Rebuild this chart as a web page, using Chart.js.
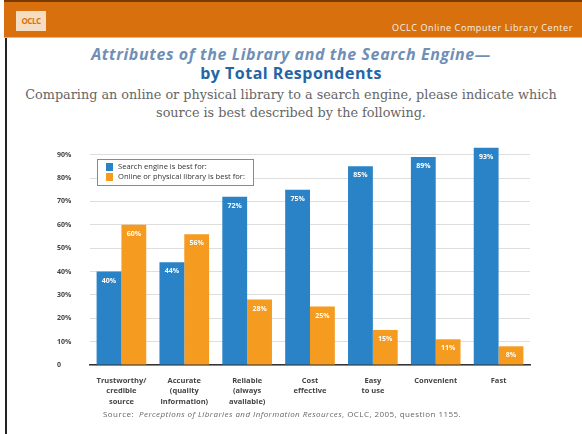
<!DOCTYPE html>
<html>
<head>
<meta charset="utf-8">
<script src="https://cdn.jsdelivr.net/npm/chart.js@4.4.1/dist/chart.umd.min.js"></script>
<style>
  html, body { margin: 0; padding: 0; background: #fff; }
  body { width: 582px; height: 434px; position: relative; overflow: hidden; font-family: "Open Sans", sans-serif; }
  .kopf { position: absolute; left: 4px; top: 0; width: 578px; height: 35px; background: #d8710d; border-top: 2px solid #7a3a06; border-bottom: 1px solid #f0b27a; }
  .logo { position: absolute; left: 12px; top: 9px; width: 30px; height: 20px; background: #f6dcc0; color: #d8710d; font: bold 8px "Open Sans"; line-height: 20px; text-align: center; letter-spacing: -0.5px; }
  .firma { position: absolute; right: 9px; top: 19px; color: #fff; font: 9px "Open Sans"; letter-spacing: 0.6px; opacity: 0.9; }
  .rand { position: absolute; left: 5px; top: 38px; width: 1.5px; height: 396px; background: #222; }
  .titel1 { position: absolute; left: 0; width: 582px; top: 43px; text-align: center; color: #6f8fb6; font: italic bold 16px "Open Sans"; letter-spacing: 0.6px; line-height: 22px; }
  .titel2 { position: absolute; left: 0; width: 582px; top: 62px; text-align: center; color: #2465a5; font: bold 16px "Open Sans"; letter-spacing: 0.5px; line-height: 22px; }
  .frage { position: absolute; left: 0; width: 582px; top: 86px; text-align: center; color: #666; font: 12.8px "DejaVu Serif"; line-height: 18px; }
  .quelle { position: absolute; left: 103px; top: 408px; color: #666; font: 8px "Open Sans"; letter-spacing: 0.45px; }
  .quelle i { font-style: italic; }
  #grafik { position: absolute; left: 0; top: 130px; }
</style>
</head>
<body>
<div class="kopf"><div class="logo">OCLC</div><div class="firma">OCLC Online Computer Library Center</div></div>
<div class="rand"></div>
<div class="titel1">Attributes of the Library and the Search Engine—</div>
<div class="titel2">by Total Respondents</div>
<div class="frage">Comparing an online or physical library to a search engine, please indicate which<br>source is best described by the following.</div>
<canvas id="grafik" width="582" height="280"></canvas>
<div class="quelle">Source: &nbsp;<i>Perceptions of Libraries and Information Resources</i>, OCLC, 2005, question 1155.</div>

<script>
// Kategorien (mehrzeilige Beschriftungen der x-Achse)
const kategorien = [
    ["Trustworthy/", "credible", "source"],
    ["Accurate", "(quality", "information)"],
    ["Reliable", "(always", "available)"],
    ["Cost", "effective"],
    ["Easy", "to use"],
    ["Convenient"],
    ["Fast"]
];

// Prozentwerte je Antwort
const suchmaschine = [40, 44, 72, 75, 85, 89, 93];
const bibliothek = [60, 56, 28, 25, 15, 11, 8];

const serienNamen = ["Search engine is best for:", "Online or physical library is best for:"];
const yTicks = [0, 10, 20, 30, 40, 50, 60, 70, 80, 90];

const BLAU = "#2a83c6";
const ORANGE = "#f59b1f";

// Prozentwerte weiß oben in die Balken schreiben
const balkenWerte = {
    id: "balkenWerte",
    afterDatasetsDraw(chart) {
        const ctx = chart.ctx;
        ctx.save();
        ctx.font = "bold 7px 'Open Sans'";
        ctx.fillStyle = "#fff";
        ctx.textAlign = "center";
        ctx.textBaseline = "middle";
        chart.data.datasets.forEach((ds, i) => {
            chart.getDatasetMeta(i).data.forEach((bar, j) => {
                ctx.fillText(ds.data[j] + "%", bar.x, bar.y + 9);
            });
        });
        ctx.restore();
    }
};

// Legende als Kasten innerhalb der Zeichenfläche
const legendeKasten = {
    id: "legendeKasten",
    afterDraw(chart) {
        const ctx = chart.ctx;
        const a = chart.chartArea;
        const x = a.left + 7, y = a.top + 16, w = 156, h = 26;
        ctx.save();
        ctx.fillStyle = "#fff";
        ctx.fillRect(x, y, w, h);
        ctx.strokeStyle = "#8a8a8a";
        ctx.lineWidth = 1;
        ctx.strokeRect(x + 0.5, y + 0.5, w, h);
        ctx.font = "7.6px 'Open Sans'";
        ctx.textBaseline = "middle";
        chart.data.datasets.forEach((ds, i) => {
            const zy = y + 8 + i * 10;
            ctx.fillStyle = ds.backgroundColor;
            ctx.fillRect(x + 9, zy - 4, 7, 8);
            ctx.fillStyle = "#333";
            ctx.fillText(ds.label, x + 21, zy);
        });
        ctx.restore();
    }
};

new Chart(document.getElementById("grafik").getContext("2d"), {
    type: "bar",
    data: {
        labels: kategorien,
        datasets: [
            { label: serienNamen[0], data: suchmaschine, backgroundColor: BLAU },
            { label: serienNamen[1], data: bibliothek, backgroundColor: ORANGE }
        ]
    },
    options: {
        responsive: false,
        animation: false,
        layout: { padding: { left: 57, right: 52, top: 13, bottom: 0 } },
        datasets: { bar: { categoryPercentage: 0.79, barPercentage: 1.0 } },
        plugins: {
            legend: { display: false },
            tooltip: { enabled: false }
        },
        scales: {
            x: {
                grid: { display: false },
                border: { display: true, color: "#333", width: 1.5 },
                ticks: {
                    color: "#444",
                    font: { family: "Open Sans", size: 7.5, weight: "bold", lineHeight: 1.45 },
                    padding: 2,
                    maxRotation: 0,
                    autoSkip: false
                },
                afterFit(scale) { scale.height = 45; }
            },
            y: {
                min: 0,
                max: 95,
                border: { display: false },
                grid: { color: "#dedede", lineWidth: 1, drawTicks: false },
                afterBuildTicks(scale) {
                    scale.ticks = yTicks.map(v => ({ value: v }));
                },
                ticks: {
                    color: "#444",
                    crossAlign: "far",
                    padding: 4,
                    font: { family: "Open Sans", size: 7, weight: "bold" },
                    callback: v => v === 0 ? "0" : v + "%"
                },
                afterFit(scale) { scale.width = 33; }
            }
        }
    },
    plugins: [balkenWerte, legendeKasten]
});
</script>
</body>
</html>
